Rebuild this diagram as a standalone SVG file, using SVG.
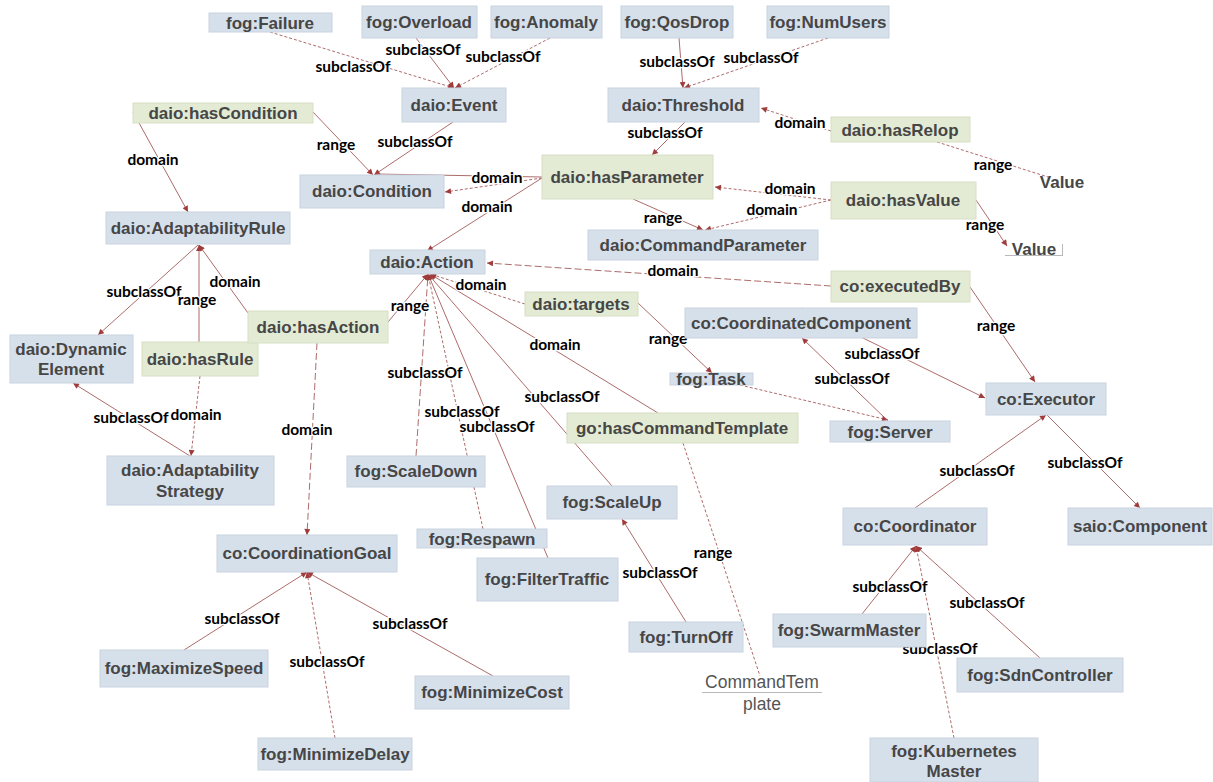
<svg xmlns="http://www.w3.org/2000/svg" width="1213" height="782" viewBox="0 0 1213 782">
  <style>
    .cls rect { fill: #d6e0eb; stroke: #c8d4e0; stroke-width: 1; }
    .prop rect { fill: #e3ebd4; stroke: #d6e0c4; stroke-width: 1; }
    .cls text, .prop text, .lit text { font-family: "Liberation Sans", Arial, sans-serif; font-weight: bold; font-size: 17px; fill: #464646; text-anchor: middle; }
    .lit text.reg { font-weight: normal; font-size: 17.5px; fill: #555555; }
    .lit line { stroke: #b8b8b8; stroke-width: 1; }
    #edges line { stroke: #a45a5a; stroke-width: 0.9; fill: none; }
    #edges line.d { stroke-dasharray: 3 2; }
    #edges line.ld { stroke-dasharray: 7 3; }
    #edges line.a { marker-end: url(#arr); }
    #labels text { font-family: Lato, "Open Sans", sans-serif; font-weight: bold; font-size: 15.5px; fill: #000; text-anchor: middle; stroke: #fff; stroke-width: 2.5; paint-order: stroke; stroke-linejoin: round; }
  </style>
  <defs>
    <marker id="arr" viewBox="0 0 10 10" refX="10" refY="5" markerWidth="7" markerHeight="6" markerUnits="userSpaceOnUse" orient="auto">
      <path d="M0,0 L10,5 L0,10 z" fill="#a03c3c"/>
    </marker>
  </defs>
  <rect width="1213" height="782" fill="#ffffff"/>

  <!-- connectors -->
  <g id="edges">
    <line class="d a" x1="270" y1="32" x2="454" y2="88"/>
    <line class="a" x1="416" y1="38" x2="454" y2="88"/>
    <line class="d a" x1="550" y1="38" x2="455" y2="88"/>
    <line class="a" x1="679" y1="38" x2="683" y2="88"/>
    <line class="d a" x1="828" y1="38" x2="684" y2="88"/>
    <line class="a" x1="453" y1="122" x2="374" y2="175"/>
    <line class="a" x1="313" y1="112" x2="373" y2="175"/>
    <line class="a" x1="133" y1="112" x2="188" y2="212"/>
    <line x1="542" y1="177" x2="376" y2="174"/>
    <line class="d a" x1="542" y1="178" x2="445" y2="192"/>
    <line class="a" x1="542" y1="178" x2="427" y2="251"/>
    <line class="a" x1="685" y1="122" x2="652" y2="155"/>
    <line class="a" x1="633" y1="199" x2="703" y2="230"/>
    <line class="d a" x1="831" y1="200" x2="715" y2="187"/>
    <line class="d a" x1="831" y1="200" x2="705" y2="230"/>
    <line class="d a" x1="831" y1="131" x2="761" y2="108"/>
    <line class="d" x1="937" y1="142" x2="1048" y2="177"/>
    <line class="a" x1="976" y1="200" x2="1007" y2="246"/>
    <line class="ld a" x1="831" y1="286" x2="487" y2="263"/>
    <line class="a" x1="970" y1="287" x2="1035" y2="382"/>
    <line class="d a" x1="525" y1="304" x2="430" y2="274"/>
    <line class="a" x1="638" y1="303" x2="712" y2="373"/>
    <line class="a" x1="658" y1="413" x2="430" y2="274"/>
    <line class="d" x1="683" y1="443" x2="760" y2="676"/>
    <line class="d a" x1="740" y1="385" x2="888" y2="420"/>
    <line class="a" x1="888" y1="421" x2="802" y2="338"/>
    <line class="a" x1="802" y1="308" x2="985" y2="398"/>
    <line class="a" x1="915" y1="508" x2="1046" y2="415"/>
    <line class="a" x1="1047" y1="415" x2="1140" y2="508"/>
    <line class="a" x1="862" y1="614" x2="916" y2="546"/>
    <line class="a" x1="1040" y1="658" x2="916" y2="546"/>
    <line class="d a" x1="954" y1="738" x2="916" y2="546"/>
    <line class="a" x1="198" y1="245" x2="98" y2="335"/>
    <line class="a" x1="199" y1="342" x2="199" y2="245"/>
    <line class="a" x1="248" y1="313" x2="199" y2="245"/>
    <line class="a" x1="388" y1="322" x2="428" y2="274"/>
    <line class="ld a" x1="317" y1="343" x2="307" y2="535"/>
    <line class="a" x1="190" y1="456" x2="73" y2="383"/>
    <line class="d a" x1="200" y1="376" x2="191" y2="456"/>
    <line class="ld a" x1="416" y1="456" x2="428" y2="274"/>
    <line class="d a" x1="483" y1="529" x2="428" y2="274"/>
    <line class="a" x1="548" y1="558" x2="428" y2="274"/>
    <line class="a" x1="612" y1="486" x2="428" y2="274"/>
    <line class="a" x1="686" y1="622" x2="622" y2="519"/>
    <line class="a" x1="184" y1="650" x2="307" y2="572"/>
    <line class="d a" x1="335" y1="738" x2="307" y2="572"/>
    <line class="a" x1="493" y1="676" x2="307" y2="572"/>
  </g>

  <!-- connector labels -->
  <g id="labels">
    <text x="353" y="72">subclassOf</text>
    <text x="423" y="55">subclassOf</text>
    <text x="503" y="62">subclassOf</text>
    <text x="677" y="67">subclassOf</text>
    <text x="761" y="63">subclassOf</text>
    <text x="415" y="147">subclassOf</text>
    <text x="336" y="150">range</text>
    <text x="153" y="165">domain</text>
    <text x="497" y="183">domain</text>
    <text x="487" y="212">domain</text>
    <text x="665" y="138">subclassOf</text>
    <text x="663" y="223">range</text>
    <text x="790" y="194">domain</text>
    <text x="772" y="215">domain</text>
    <text x="800" y="128">domain</text>
    <text x="993" y="170">range</text>
    <text x="985" y="230">range</text>
    <text x="673" y="276">domain</text>
    <text x="996" y="331">range</text>
    <text x="481" y="290">domain</text>
    <text x="668" y="344">range</text>
    <text x="555" y="350">domain</text>
    <text x="713" y="558">range</text>
    <text x="852" y="384">subclassOf</text>
    <text x="882" y="359">subclassOf</text>
    <text x="977" y="476">subclassOf</text>
    <text x="1085" y="468">subclassOf</text>
    <text x="890" y="592">subclassOf</text>
    <text x="987" y="608">subclassOf</text>
    <text x="940" y="654">subclassOf</text>
    <text x="144" y="297">subclassOf</text>
    <text x="235" y="287">domain</text>
    <text x="197" y="305">range</text>
    <text x="410" y="311">range</text>
    <text x="307" y="435">domain</text>
    <text x="131" y="423">subclassOf</text>
    <text x="196" y="420">domain</text>
    <text x="425" y="378">subclassOf</text>
    <text x="462" y="417">subclassOf</text>
    <text x="497" y="432">subclassOf</text>
    <text x="562" y="402">subclassOf</text>
    <text x="660" y="578">subclassOf</text>
    <text x="242" y="624">subclassOf</text>
    <text x="327" y="667">subclassOf</text>
    <text x="410" y="629">subclassOf</text>
  </g>

  <!-- classes and properties -->
  <g id="fog-failure" class="cls"><rect x="209" y="13" width="123" height="19"/><text x="270" y="29">fog:Failure</text></g>
  <g id="fog-overload" class="cls"><rect x="362" y="6" width="115" height="32"/><text x="419" y="28">fog:Overload</text></g>
  <g id="fog-anomaly" class="cls"><rect x="491" y="6" width="111" height="32"/><text x="546" y="28">fog:Anomaly</text></g>
  <g id="fog-qosdrop" class="cls"><rect x="621" y="6" width="112" height="32"/><text x="677" y="28">fog:QosDrop</text></g>
  <g id="fog-numusers" class="cls"><rect x="767" y="6" width="122" height="32"/><text x="828" y="28">fog:NumUsers</text></g>
  <g id="daio-event" class="cls"><rect x="402" y="88" width="104" height="34"/><text x="454" y="111">daio:Event</text></g>
  <g id="daio-threshold" class="cls"><rect x="608" y="88" width="151" height="34"/><text x="683" y="111">daio:Threshold</text></g>
  <g id="daio-hascondition" class="prop"><rect x="133" y="103" width="180" height="20"/><text x="223" y="119">daio:hasCondition</text></g>
  <g id="daio-condition" class="cls"><rect x="300" y="175" width="144" height="33"/><text x="372" y="197">daio:Condition</text></g>
  <g id="daio-hasparameter" class="prop"><rect x="542" y="155" width="171" height="44"/><text x="627" y="183">daio:hasParameter</text></g>
  <g id="daio-commandparameter" class="cls"><rect x="588" y="230" width="230" height="30"/><text x="703" y="251">daio:CommandParameter</text></g>
  <g id="daio-hasrelop" class="prop"><rect x="831" y="117" width="139" height="25"/><text x="900" y="136">daio:hasRelop</text></g>
  <g id="value-relop" class="lit"><text x="1062" y="188">Value</text></g>
  <g id="daio-hasvalue" class="prop"><rect x="831" y="182" width="145" height="37"/><text x="903" y="206">daio:hasValue</text></g>
  <g id="value-hasvalue" class="lit"><text x="1034" y="255">Value</text><line x1="1005" y1="255.5" x2="1063" y2="255.5"/><line x1="1062.5" y1="244" x2="1062.5" y2="255.5"/></g>
  <g id="daio-adaptabilityrule" class="cls"><rect x="106" y="212" width="184" height="32"/><text x="198" y="234">daio:AdaptabilityRule</text></g>
  <g id="daio-dynamicelement" class="cls"><rect x="10" y="335" width="123" height="48"/><text x="71" y="355">daio:Dynamic</text><text x="71" y="375">Element</text></g>
  <g id="daio-hasrule" class="prop"><rect x="142" y="342" width="116" height="34"/><text x="200" y="365">daio:hasRule</text></g>
  <g id="daio-hasaction" class="prop"><rect x="248" y="311" width="140" height="32"/><text x="318" y="333">daio:hasAction</text></g>
  <g id="daio-adaptabilitystrategy" class="cls"><rect x="107" y="456" width="167" height="49"/><text x="190" y="476">daio:Adaptability</text><text x="190" y="497">Strategy</text></g>
  <g id="daio-action" class="cls"><rect x="370" y="250" width="115" height="24"/><text x="427" y="268">daio:Action</text></g>
  <g id="daio-targets" class="prop"><rect x="525" y="292" width="113" height="24"/><text x="581" y="310">daio:targets</text></g>
  <g id="co-executedby" class="prop"><rect x="831" y="271" width="139" height="31"/><text x="900" y="292">co:executedBy</text></g>
  <g id="co-coordinatedcomponent" class="cls"><rect x="685" y="308" width="232" height="30"/><text x="801" y="329">co:CoordinatedComponent</text></g>
  <g id="fog-task" class="cls"><rect x="670" y="373" width="83" height="12"/><text x="711" y="385">fog:Task</text></g>
  <g id="fog-server" class="cls"><rect x="830" y="421" width="120" height="21"/><text x="890" y="438">fog:Server</text></g>
  <g id="go-hascommandtemplate" class="prop"><rect x="567" y="413" width="231" height="30"/><text x="682" y="434">go:hasCommandTemplate</text></g>
  <g id="co-executor" class="cls"><rect x="986" y="383" width="120" height="32"/><text x="1046" y="405">co:Executor</text></g>
  <g id="fog-scaledown" class="cls"><rect x="347" y="456" width="138" height="31"/><text x="416" y="477">fog:ScaleDown</text></g>
  <g id="fog-scaleup" class="cls"><rect x="547" y="486" width="130" height="33"/><text x="612" y="508">fog:ScaleUp</text></g>
  <g id="fog-respawn" class="cls"><rect x="417" y="529" width="130" height="19"/><text x="482" y="545">fog:Respawn</text></g>
  <g id="fog-filtertraffic" class="cls"><rect x="477" y="558" width="141" height="43"/><text x="547" y="585">fog:FilterTraffic</text></g>
  <g id="co-coordinationgoal" class="cls"><rect x="217" y="535" width="180" height="37"/><text x="307" y="559">co:CoordinationGoal</text></g>
  <g id="fog-maximizespeed" class="cls"><rect x="100" y="650" width="168" height="37"/><text x="184" y="674">fog:MaximizeSpeed</text></g>
  <g id="fog-minimizedelay" class="cls"><rect x="258" y="738" width="154" height="32"/><text x="335" y="760">fog:MinimizeDelay</text></g>
  <g id="fog-minimizecost" class="cls"><rect x="415" y="676" width="154" height="33"/><text x="492" y="698">fog:MinimizeCost</text></g>
  <g id="fog-turnoff" class="cls"><rect x="629" y="622" width="114" height="30"/><text x="686" y="643">fog:TurnOff</text></g>
  <g id="commandtemplate" class="lit"><text class="reg" x="762" y="688">CommandTem</text><line x1="702" y1="692.5" x2="822" y2="692.5"/><text class="reg" x="762" y="710">plate</text></g>
  <g id="co-coordinator" class="cls"><rect x="843" y="508" width="144" height="37"/><text x="915" y="532">co:Coordinator</text></g>
  <g id="saio-component" class="cls"><rect x="1068" y="508" width="144" height="37"/><text x="1140" y="532">saio:Component</text></g>
  <g id="fog-swarmmaster" class="cls"><rect x="773" y="614" width="153" height="33"/><text x="849" y="636">fog:SwarmMaster</text></g>
  <g id="fog-sdncontroller" class="cls"><rect x="957" y="658" width="166" height="34"/><text x="1040" y="681">fog:SdnController</text></g>
  <g id="fog-kubernetesmaster" class="cls"><rect x="870" y="738" width="168" height="44"/><text x="954" y="757">fog:Kubernetes</text><text x="954" y="777">Master</text></g>
</svg>
